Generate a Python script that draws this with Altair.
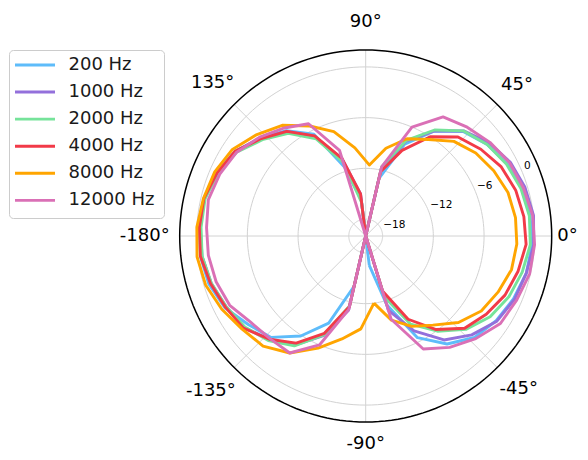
import altair as alt
import pandas as pd
import numpy as np

# ---------------- data ----------------
angles = [-83, -73, -63, -53, -43, -33, -23, -13, -3, 7, 17, 27, 37, 47, 57, 67, 77, 87,
          97, 107, 117, 127, 137, 147, 157, 167, 177, 187, 197, 207, 217, 227, 237, 247, 257, 267]

series = ["200 Hz", "1000 Hz", "2000 Hz", "4000 Hz", "8000 Hz", "12000 Hz"]
colors = ["#5ebcfa", "#9370db", "#76e39a", "#f23a48", "#ffa500", "#da70b6"]

db_200 = [-16.5, -11.5, -6.5, -4.0, -2.4, -1.6, -1.0, -0.5, -0.3, -0.4, -0.7, -1.2, -2.0, -3.1, -5.2, -8.2, -13.0, -20.0,
          -15.7, -11.5, -6.5, -4.4, -3.0, -1.6, -0.8, -0.4, -0.3, -0.3, -0.6, -1.3, -2.6, -3.6, -5.9, -8.8, -13.9, -20.0]
db_1000 = [-20.0, -10.8, -7.4, -4.6, -2.85, -1.5, -0.87, -0.5, -0.1, 0.0, -0.3, -0.8, -1.7, -3.0, -5.2, -7.8, -11.8, -20.0,
           -15.0, -10.5, -6.8, -4.5, -3.0, -1.6, -0.9, -0.4, -0.4, -0.5, -0.9, -1.5, -2.0, -3.3, -4.6, -7.2, -11.0, -20.0]
db_2000 = [-20.0, -12.5, -8.3, -5.9, -3.8, -2.45, -1.6, -1.0, -0.5, -0.5, -0.8, -1.3, -2.0, -3.0, -5.05, -7.7, -11.6, -20.0,
           -16.0, -10.9, -7.1, -4.8, -3.3, -1.8, -1.0, -0.5, -0.5, -0.5, -0.9, -1.5, -2.1, -3.1, -4.5, -7.3, -11.5, -20.0]
db_4000 = [-20.0, -13.2, -8.95, -6.15, -4.0, -3.0, -2.1, -1.5, -1.0, -1.15, -1.45, -2.0, -2.95, -4.0, -6.0, -9.0, -12.2, -20.0,
           -15.0, -10.4, -6.7, -4.5, -3.1, -1.6, -0.9, -0.35, -0.3, -0.3, -0.8, -1.4, -1.9, -3.3, -4.9, -7.5, -11.4, -20.0]
db_8000 = [-12.0, -9.6, -8.0, -6.8, -5.0, -3.7, -3.0, -2.3, -2.1, -2.15, -2.4, -3.0, -3.7, -4.7, -6.4, -7.5, -9.35, -11.6,
           -9.5, -7.1, -5.4, -3.6, -2.4, -1.2, -0.6, -0.3, 0.0, 0.1, -0.2, -0.9, -1.7, -2.2, -3.5, -5.6, -7.5, -9.0]
db_12000 = [-20.0, -9.7, -5.0, -3.5, -2.2, -1.0, -0.6, -0.1, 0.0, -0.1, -0.5, -0.9, -1.6, -2.4, -3.2, -6.0, -11.6, -20.0,
            -20.0, -9.4, -5.1, -4.0, -2.85, -1.8, -1.25, -0.9, -1.15, -1.25, -1.5, -1.95, -3.0, -3.4, -3.5, -6.0, -11.1, -20.0]

values = [db_200, db_1000, db_2000, db_4000, db_8000, db_12000]

r_ticks = [-18, -12, -6, 0]
r_tick_labels = ["\u221218", "\u221212", "\u22126", "0"]
theta_ticks = [0, 45, 90, 135, 180, 225, 270, 315]
theta_labels = ["0°", "45°", "90°", "135°", "-180°", "-135°", "-90°", "-45°"]

R_MIN, R_MAX = -20, 2

# ---------------- layout ----------------
W, H = 572, 444
CX, CY = 357.7, 228.0          # polar centre inside the view (px)
PX = 186.0 / (R_MAX - R_MIN)   # px per dB
x_dom = [-CX / PX, (W - CX) / PX]
y_dom = [-(H - CY) / PX, CY / PX]
XS = alt.Scale(domain=x_dom, nice=False, zero=False)
YS = alt.Scale(domain=y_dom, nice=False, zero=False)
FONT = "DejaVu Sans"

color_scale = alt.Scale(domain=series, range=colors)

# ---------------- tables ----------------
rows = []
for s, vals in zip(series, values):
    for i, (a, v) in enumerate(zip(angles + [angles[0] + 360], vals + [vals[0]])):
        rows.append({"series": s, "theta": a, "db": v, "ord": i})
df = pd.DataFrame(rows)

circ_rows = []
for lvl in r_ticks + [R_MAX]:
    for i, a in enumerate(range(0, 361, 2)):
        circ_rows.append({"lvl": lvl, "theta": a, "ord": i, "outer": lvl == R_MAX})
circ = pd.DataFrame(circ_rows)

spoke_rows = []
for t in theta_ticks:
    spoke_rows.append({"t": t, "theta": t, "rr": 0, "ord": 0})
    spoke_rows.append({"t": t, "theta": t, "rr": R_MAX - R_MIN, "ord": 1})
spokes = pd.DataFrame(spoke_rows)

tlab = pd.DataFrame({"theta": theta_ticks, "label": theta_labels})
rlab = pd.DataFrame({"db": r_ticks, "label": r_tick_labels})
leg = pd.DataFrame({"series": series, "idx": list(range(len(series)))})

X = lambda f: alt.X(f, type="quantitative", scale=XS, axis=None)
Y = lambda f: alt.Y(f, type="quantitative", scale=YS, axis=None)

polar_xy = dict(px="datum.rr * cos(datum.theta * PI / 180)",
                py="datum.rr * sin(datum.theta * PI / 180)")

GRID = "#d2d2d2"

grid = alt.Chart(circ).transform_filter("!datum.outer").transform_calculate(
    rr=f"datum.lvl - ({R_MIN})").transform_calculate(**polar_xy).mark_line(
    color=GRID, strokeWidth=1).encode(x=X("px"), y=Y("py"), detail="lvl:N", order="ord:Q")

outer = alt.Chart(circ).transform_filter("datum.outer").transform_calculate(
    rr=f"datum.lvl - ({R_MIN})").transform_calculate(**polar_xy).mark_line(
    color="black", strokeWidth=1.5).encode(x=X("px"), y=Y("py"), order="ord:Q")

spk = alt.Chart(spokes).transform_calculate(**polar_xy).mark_line(
    color=GRID, strokeWidth=1).encode(x=X("px"), y=Y("py"), detail="t:N", order="ord:Q")

lines = alt.Chart(df).transform_calculate(
    rr=f"max(0, datum.db - ({R_MIN}))").transform_calculate(**polar_xy).mark_line(
    strokeWidth=2.9, strokeJoin="round").encode(
    x=X("px"), y=Y("py"),
    color=alt.Color("series:N", scale=color_scale, legend=None, sort=series),
    detail="series:N", order="ord:Q")

# angle labels, kept inside the drawing area so none is cut off
ang_text = alt.Chart(tlab).transform_calculate(
    rr=f"(214 + abs(cos(datum.theta * PI / 180)) * (length(datum.label) - 3) * 3.5) / {PX}").transform_calculate(
    **polar_xy).transform_calculate(
    qx=f"min(datum.px, {x_dom[1] - 12.5 / PX})",
    qy=f"max(datum.py, {y_dom[0] + 8.5 / PX})").mark_text(
    fontSize=18, font=FONT, color="black", align="center", baseline="middle").encode(
    x=X("qx"), y=Y("qy"), text="label:N")

rad_text = alt.Chart(rlab).transform_calculate(
    rr=f"datum.db - ({R_MIN})", theta="22.5").transform_calculate(**polar_xy).mark_text(
    fontSize=10.5, font=FONT, color="black", align="left", baseline="bottom", dx=2).encode(
    x=X("px"), y=Y("py"), text="label:N")

# legend (pixel positions converted into the shared data scale)
def ux(p):
    return f"{x_dom[0]} + ({p}) / {PX}"

def uy(p):
    return f"{y_dom[1]} - ({p}) / {PX}"

leg_box = alt.Chart(pd.DataFrame({"k": [0]})).transform_calculate(
    x1=ux(1.5), x2=ux(156.5), y1=uy(42.5), y2=uy(210.5)).mark_rect(
    fill="white", stroke="#cccccc", strokeWidth=1, cornerRadius=4).encode(
    x=X("x1"), x2="x2", y=Y("y1"), y2="y2")

leg_rule = alt.Chart(leg).transform_calculate(
    x1=ux(7), x2=ux(47), ly=uy("57 + datum.idx * 27.07")).mark_rule(strokeWidth=2.9).encode(
    x=X("x1"), x2="x2", y=Y("ly"),
    color=alt.Color("series:N", scale=color_scale, legend=None, sort=series))

leg_text = alt.Chart(leg).transform_calculate(
    tx=ux(60.5), ly=uy("57 + datum.idx * 27.07")).mark_text(
    fontSize=18, font=FONT, color="#1a1a1a", align="left", baseline="middle").encode(
    x=X("tx"), y=Y("ly"), text="series:N")

chart = alt.layer(grid, spk, lines, outer, rad_text, ang_text, leg_box, leg_rule, leg_text).properties(
    width=W, height=H, padding=0, autosize=alt.AutoSizeParams(type="none"),
    background="white").configure_view(stroke=None)

chart.save("out.html", embed_options={"renderer": "svg", "actions": False})
